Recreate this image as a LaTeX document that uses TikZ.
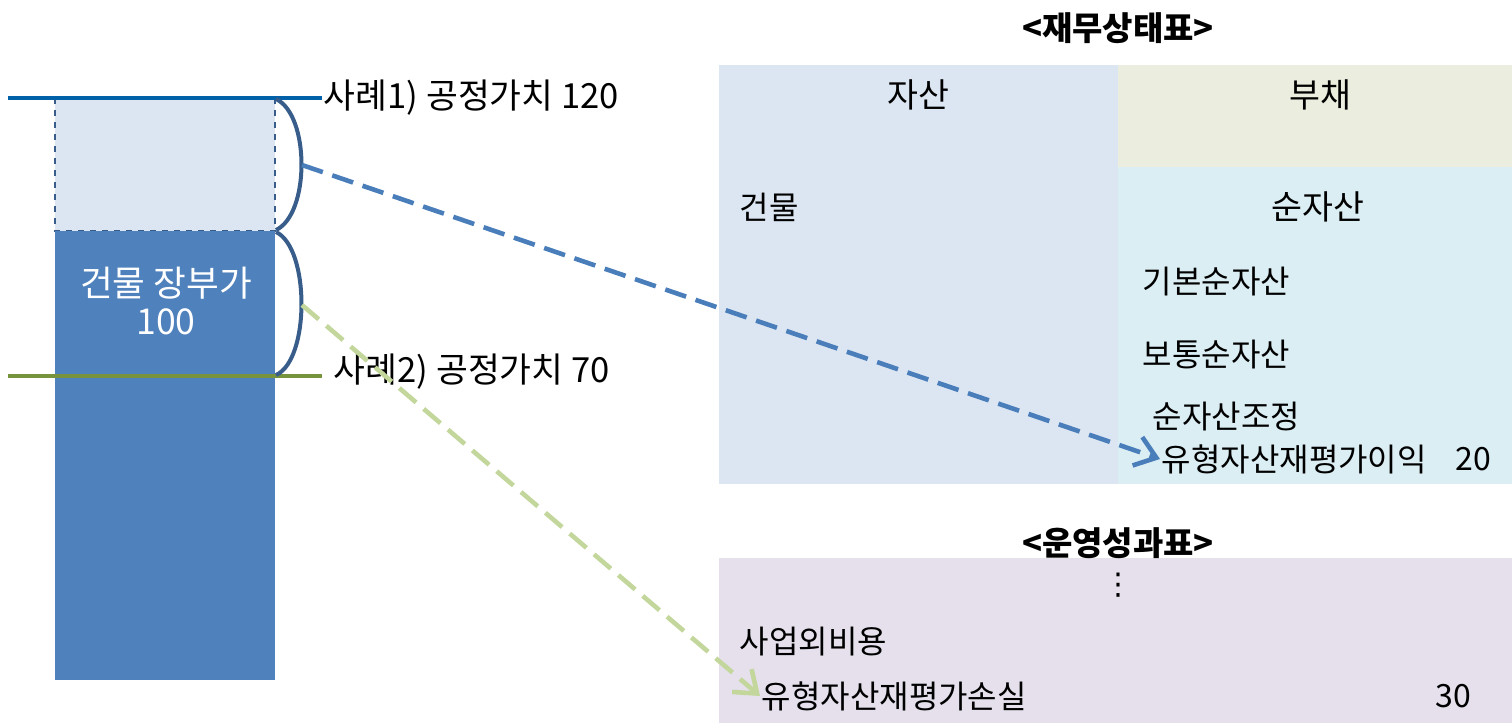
\documentclass[tikz,border=0pt]{standalone}
\usepackage{fontspec}
\setmainfont{Noto Sans CJK KR}
\newfontfamily\symfont{DejaVu Sans}
\usetikzlibrary{arrows.meta,calc}

\definecolor{caseblue}{RGB}{0,96,168}
\definecolor{casegreen}{RGB}{119,147,60}
\definecolor{bookblue}{RGB}{79,129,189}
\definecolor{paleblue}{RGB}{220,230,242}
\definecolor{braceblue}{RGB}{56,93,138}
\definecolor{liabgreen}{RGB}{235,238,222}
\definecolor{equityblue}{RGB}{219,238,244}
\definecolor{oplilac}{RGB}{229,224,236}
\definecolor{gainblue}{RGB}{74,126,187}
\definecolor{losslime}{RGB}{195,214,155}

\begin{document}
\begin{tikzpicture}[x=0.5pt,y=0.5pt,yscale=-1,xscale=1,
  txt/.style={inner sep=0.75pt,font=\fontsize{16}{18}\selectfont},
  hd/.style={inner sep=0.75pt,font=\fontsize{16.8}{19}\selectfont},
  big/.style={inner sep=0.75pt,font=\fontsize{17.3}{19}\selectfont},
  ttl/.style={inner sep=0.75pt,font=\fontsize{16.5}{19}\selectfont\bfseries},
  brace/.style={draw=braceblue,line width=2pt},
  dasharrow/.style={line width=2.3pt,dash pattern=on 11pt off 5pt,-{Straight Barb[length=10pt,width=15pt,line width=2.3pt]}}]
\useasboundingbox (0,0) rectangle (1512,723);

%Shape: Rectangle (fair value above book value)
\draw [braceblue, dashed, line width=0.6pt, fill=paleblue] (55,98) rectangle (275,231) ;
%Shape: Rectangle (book value)
\fill [bookblue] (55,231) rectangle (275,680) ;
%Straight Lines (case 1)
\draw [caseblue, line width=2pt] (8,98) -- (322,98) ;
%Straight Lines (case 2)
\draw [casegreen, line width=2pt] (8,376) -- (322,376) ;
%Curve Lines (braces)
\draw [brace] (276,99) .. controls (310,115) and (310,214) .. (276,230) ;
\draw [brace] (276,232) .. controls (310,248) and (310,360) .. (276,375) ;
\coordinate (gainTip) at (302,165) ;
\coordinate (lossTip) at (302,305) ;

%Shape: Rectangles (statement of financial position)
\fill [paleblue] (719,65) rectangle (1118,484) ;
\fill [liabgreen] (1118,65) rectangle (1512,167) ;
\fill [equityblue] (1118,167) rectangle (1512,484) ;
%Shape: Rectangle (statement of operations)
\fill [oplilac] (719,558) rectangle (1512,723) ;

% Text Node
\node [big, text=white, font=\fontsize{17.8}{20}\selectfont] (bookTxt) at (166,283) {건물 장부가};
% Text Node
\node [big, text=white, font=\fontsize{17.8}{20}\selectfont] (bookVal) at (166,322) {100};
% Text Node
\node [big, anchor=west] (case1) at (322,98) {사례1) 공정가치 120};
% Text Node
\node [big, anchor=west] (case2) at (332,372) {사례2) 공정가치 70};

% Text Node
\node [ttl] (sfpTitle) at (1118,28) {<재무상태표>};
% Text Node
\node [hd] (assetHd) at (918,95) {자산};
% Text Node
\node [hd] (liabHd) at (1320,95) {부채};
% Text Node
\node [txt, anchor=west] (bldg) at (738,207) {건물};
% Text Node
\node [hd] (netAsset) at (1318,207) {순자산};
% Text Node
\node [txt, anchor=west] (basicNA) at (1141,282) {기본순자산};
% Text Node
\node [txt, anchor=west] (commonNA) at (1141,355) {보통순자산};
% Text Node
\node [txt, anchor=west] (adjNA) at (1151,417) {순자산조정};
% Text Node
\node [txt, anchor=west] (revGain) at (1160,459) {유형자산재평가이익};
% Text Node
\node [txt] (revGainVal) at (1473,459) {20};

% Text Node
\node [ttl] (opTitle) at (1118,543) {<운영성과표>};
% Text Node
\node [txt, font=\fontsize{15}{17}\symfont] (vdots) at (1118,585) {⋮};
% Text Node
\node [txt, anchor=west] (nonOpExp) at (738,642) {사업외비용};
% Text Node
\node [txt, anchor=west] (revLoss) at (760,696) {유형자산재평가손실};
% Text Node
\node [txt] (revLossVal) at (1453,696) {30};

%Straight Lines (dashed arrows)
\draw [dasharrow, gainblue] (gainTip) -- (revGain.west) ;
\draw [dasharrow, losslime] (lossTip) -- (revLoss.west) ;

\end{tikzpicture}
\end{document}
